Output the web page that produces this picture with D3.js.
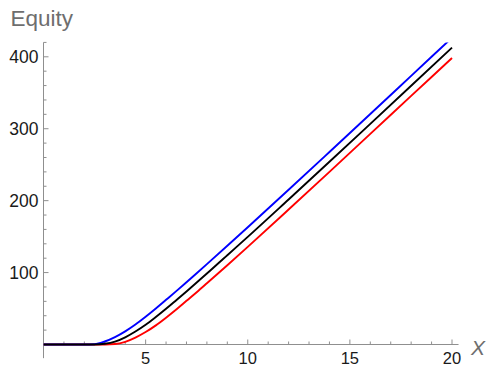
<!DOCTYPE html>
<html><head><meta charset="utf-8">
<script src="https://cdn.jsdelivr.net/npm/d3@7"></script>
<style>html,body{margin:0;padding:0;background:#fff}</style>
</head><body>
<svg id="chart" width="487" height="367"></svg>
<script>
const xValues     = [0, 1, 2, 2.5, 3, 3.5, 4, 4.5, 5, 5.5, 6, 6.5, 7, 7.5, 8, 9, 10, 12, 14, 16, 18, 20];
const blueSeries  = [0, 0, 0, 0.4, 4.2, 10.3, 18.3, 27.8, 38.6, 50.1, 62.1, 74.2, 86.6, 99.1, 111.7, 137.2, 163, 215.1, 267.7, 320.5, 373.5, 426.5];
const blackSeries = [0, 0, 0, 0, 1.0, 4.0, 10.0, 18.0, 27.4, 38.2, 49.6, 61.6, 73.7, 86.1, 98.6, 124.2, 149.6, 201.6, 254.0, 306.8, 359.7, 412.7];
const redSeries   = [0, 0, 0, 0, 0, 0.6, 3.7, 9.6, 17.3, 26.6, 37.3, 48.7, 60.7, 72.7, 85.1, 110.2, 135.7, 187.6, 240.0, 292.8, 345.6, 398.4];
const xMajorTicks = [5, 10, 15, 20];
const yMajorTicks = [100, 200, 300, 400];
const yLabel = "Equity";
const xLabel = "X";

const svg = d3.select("#chart");
const x = d3.scaleLinear().domain([0, 20]).range([43.5, 452]);
const y = d3.scaleLinear().domain([0, 400]).range([344.5, 56.8]);
const xMin = 0, xMax = 20.32, yMin = -19, yMax = 420;

const axisColor = "#8f8f8f";
const font = "Liberation Sans, Arial, sans-serif";

svg.append("defs").append("clipPath").attr("id", "plotclip")
  .append("rect").attr("x", x(xMin)).attr("y", y(yMax))
  .attr("width", x(xMax) - x(xMin)).attr("height", y(yMin) - y(yMax));

// axis lines
svg.append("line").attr("x1", x(xMin)).attr("x2", x(xMax)).attr("y1", y(0)).attr("y2", y(0))
  .attr("stroke", axisColor).attr("stroke-width", 1);
svg.append("line").attr("x1", x(0)).attr("x2", x(0)).attr("y1", y(yMin)).attr("y2", y(yMax))
  .attr("stroke", axisColor).attr("stroke-width", 1);

// x ticks
const xMinor = d3.range(1, 21);
svg.append("g").selectAll("line").data(xMinor).join("line")
  .attr("x1", d => x(d)).attr("x2", d => x(d))
  .attr("y1", y(0)).attr("y2", d => y(0) - (d % 5 === 0 ? 5 : 3))
  .attr("stroke", axisColor).attr("stroke-width", 1);
svg.append("g").selectAll("text").data(xMajorTicks).join("text")
  .attr("x", d => x(d)).attr("y", 363.5)
  .attr("text-anchor", "middle")
  .attr("font-family", font).attr("font-size", 16.5)
  .attr("fill", "#1a1a1a").text(d => d);

// y ticks
const yMinor = d3.range(20, 421, 20);
svg.append("g").selectAll("line").data(yMinor).join("line")
  .attr("x1", x(0)).attr("x2", d => x(0) + (d % 100 === 0 ? 5 : 3))
  .attr("y1", d => y(d)).attr("y2", d => y(d))
  .attr("stroke", axisColor).attr("stroke-width", 1);
svg.append("g").selectAll("text").data(yMajorTicks).join("text")
  .attr("x", 38.5).attr("y", d => y(d)).attr("dy", "0.36em")
  .attr("text-anchor", "end")
  .attr("font-family", font).attr("font-size", 17.5)
  .attr("fill", "#1a1a1a").text(d => d);

// axis labels
svg.append("text").attr("x", 10.5).attr("y", 26)
  .attr("font-family", font).attr("font-size", 22.5)
  .attr("fill", "#6e6e6e").text(yLabel);
svg.append("text").attr("x", 471).attr("y", 355)
  .attr("font-family", font).attr("font-size", 21)
  .attr("font-style", "italic")
  .attr("fill", "#6e6e6e").text(xLabel);

// curves
const line = d3.line().x(d => x(d[0])).y(d => y(d[1])).curve(d3.curveMonotoneX);
const series = [
  {vals: redSeries, color: "#ff0000"},
  {vals: blueSeries, color: "#0000ff"},
  {vals: blackSeries, color: "#000000"}
];
const g = svg.append("g").attr("clip-path", "url(#plotclip)");
series.forEach(s => {
  g.append("path").datum(xValues.map((xv, i) => [xv, s.vals[i]]))
    .attr("d", line).attr("fill", "none")
    .attr("stroke", s.color).attr("stroke-width", 1.9)
    .attr("stroke-linejoin", "round");
});
</script>
</body></html>
